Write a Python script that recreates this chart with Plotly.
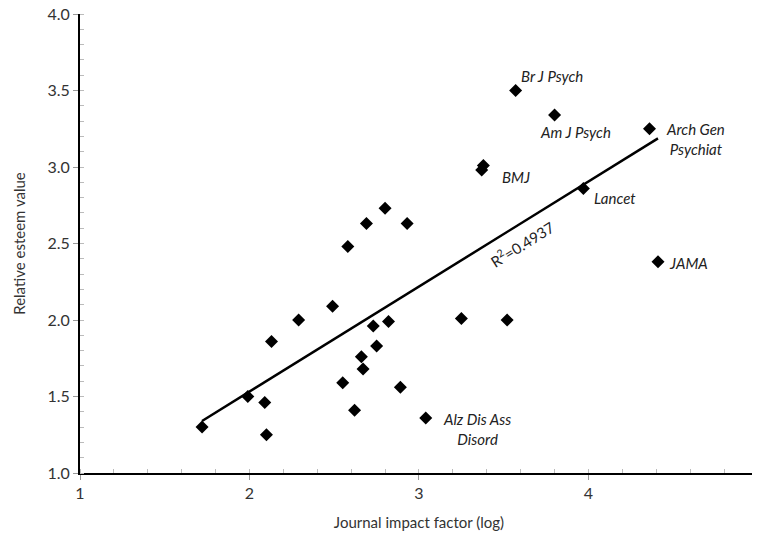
import numpy as np
import plotly.graph_objects as go

# Data
impact_factor = [1.72, 1.99, 2.09, 2.10, 2.13, 2.29, 2.49, 2.55, 2.58, 2.62, 2.66,
                 2.67, 2.69, 2.73, 2.75, 2.80, 2.82, 2.89, 2.93, 3.04, 3.25, 3.37,
                 3.38, 3.52, 3.57, 3.80, 3.97, 4.36, 4.41]
esteem = [1.30, 1.50, 1.46, 1.25, 1.86, 2.00, 2.09, 1.59, 2.48, 1.41, 1.76,
          1.68, 2.63, 1.96, 1.83, 2.73, 1.99, 1.56, 2.63, 1.36, 2.01, 2.98,
          3.01, 2.00, 3.50, 3.34, 2.86, 3.25, 2.38]

labelled = {
    "Br J Psych": (3.57, 3.50),
    "Am J Psych": (3.80, 3.34),
    "Arch Gen<br>Psychiat": (4.36, 3.25),
    "BMJ": (3.38, 3.01),
    "Lancet": (3.97, 2.86),
    "JAMA": (4.41, 2.38),
    "Alz Dis Ass<br>Disord": (3.04, 1.36),
}
r2_text = "R<sup>2</sup>=0.4937"

x_ticks = [1, 2, 3, 4, 5]
y_ticks = [1.0, 1.5, 2.0, 2.5, 3.0, 3.5, 4.0]

# Linear trendline from the data
xs = np.array(impact_factor)
ys = np.array(esteem)
slope, intercept = np.polyfit(xs, ys, 1)
fit_x = np.array([xs.min(), xs.max()])
fit_y = slope * fit_x + intercept

FONT = "Lato, 'Open Sans', sans-serif"

fig = go.Figure()
fig.add_trace(go.Scatter(
    x=fit_x, y=fit_y, mode="lines",
    line=dict(color="black", width=2.5), hoverinfo="skip", showlegend=False))
fig.add_trace(go.Scatter(
    x=impact_factor, y=esteem, mode="markers",
    marker=dict(symbol="diamond", size=10, color="black"),
    showlegend=False))

# label offsets (pixels): (xanchor, xshift, yshift)
offsets = {
    "Br J Psych": ("left", 3, 15),
    "Am J Psych": ("left", -17, -17),
    "Arch Gen<br>Psychiat": ("center", 46, -10),
    "BMJ": ("left", 17, -12),
    "Lancet": ("left", 9, -10),
    "JAMA": ("left", 9, -1),
    "Alz Dis Ass<br>Disord": ("center", 51, -11),
}
for name, (lx, ly) in labelled.items():
    xa, xs_, ys_ = offsets[name]
    fig.add_annotation(
        x=lx, y=ly, text=f"<i>{name}</i>", showarrow=False,
        xanchor=xa, yanchor="middle", xshift=xs_, yshift=ys_, align="center",
        font=dict(family=FONT, size=15, color="#222"))

r2_x = 3.62
fig.add_annotation(
    x=r2_x, y=slope * r2_x + intercept, text=r2_text, showarrow=False,
    textangle=-32, yshift=-22, xshift=-2,
    font=dict(family=FONT, size=15, color="#222"))

fig.update_layout(
    width=760, height=540,
    margin=dict(l=72, r=10, t=6, b=75, autoexpand=False),
    plot_bgcolor="white", paper_bgcolor="white",
    font=dict(family=FONT, size=14, color="#333"),
    xaxis=dict(
        range=[1, 5.0001], tickvals=x_ticks, ticktext=[str(v) for v in x_ticks],
        showgrid=False, zeroline=False, showline=True, linecolor="black",
        linewidth=2, ticks="outside", ticklen=5, tickcolor="#999",
        minor=dict(dtick=0.2, ticks="inside", ticklen=4, tickcolor="#bbb"),
        title=dict(text="Journal impact factor (log)", font=dict(size=15), standoff=16),
        tickfont=dict(size=16), automargin=False, ticklabeloverflow="allow",
    ),
    yaxis=dict(
        range=[1, 4.0001], tickvals=y_ticks, ticktext=[f"{v:.1f}" for v in y_ticks],
        showgrid=False, zeroline=False, showline=True, linecolor="black",
        linewidth=2, ticks="outside", ticklen=5, tickcolor="#999",
        minor=dict(dtick=0.1, ticks="inside", ticklen=4, tickcolor="#bbb"),
        title=dict(text="Relative esteem value", font=dict(size=15), standoff=18),
        tickfont=dict(size=16), automargin=False, ticklabeloverflow="allow",
    ),
)

fig.write_html("out.html")
